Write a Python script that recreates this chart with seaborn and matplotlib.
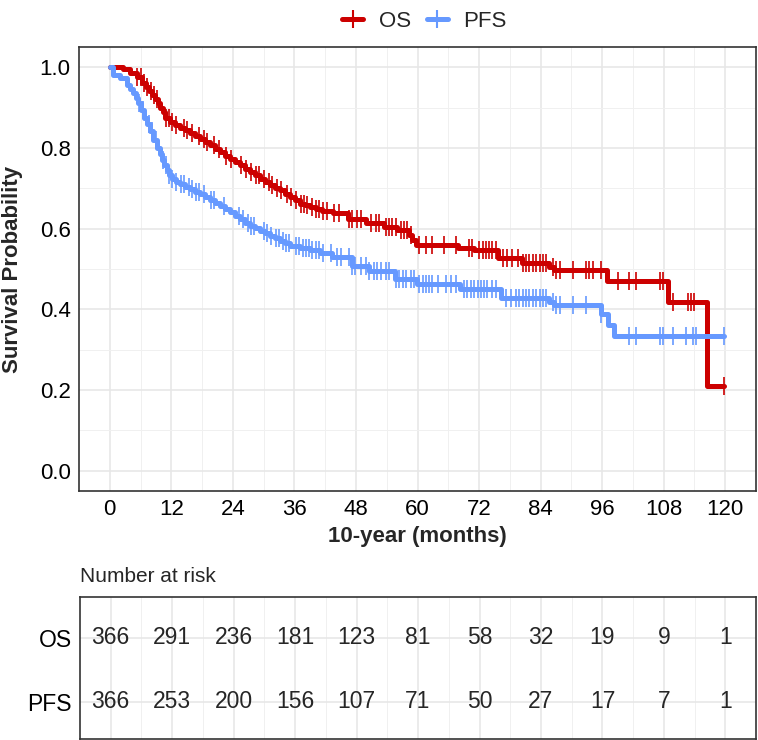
import numpy as np
import pandas as pd
import matplotlib
matplotlib.use('Agg')
import matplotlib.pyplot as plt
from matplotlib.lines import Line2D
import seaborn as sns

# ── DATA ───────────────────────────────────────────────────────────────────
risk_months = [0, 12, 24, 36, 48, 60, 72, 84, 96, 108, 120]
risk_os = [366, 291, 236, 181, 123, 81, 58, 32, 19, 9, 1]
risk_pfs = [366, 253, 200, 156, 107, 71, 50, 27, 17, 7, 1]

# Kaplan-Meier steps: time of drop and survival after the drop
os_time = [0, 2.5, 4.0, 5.3, 6.3, 7.0, 7.6, 8.3, 8.9, 9.4, 9.8, 10.3, 10.8, 11.8,
           12.8, 13.7, 14.7, 15.7, 16.6, 17.6, 18.6, 19.6, 20.5, 21.5, 22.5, 23.5,
           24.5, 25.4, 26.4, 27.4, 28.3, 29.3, 30.2, 31.2, 32.2, 33.2, 34.1, 35.1,
           36.1, 37.1, 38.0, 39.0, 40.2, 41.3, 43.5, 46.4, 50.0, 53.4, 56.0, 58.4,
           59.0, 59.7, 67.8, 71.0, 75.7, 80.3, 85.7, 86.7, 97.0, 108.8, 116.5, 119.8]
os_surv = [1.0, 0.995, 0.985, 0.975, 0.962, 0.95, 0.94, 0.93, 0.92, 0.91, 0.90, 0.888,
           0.875, 0.863, 0.856, 0.85, 0.844, 0.838, 0.83, 0.822, 0.814, 0.806, 0.798,
           0.79, 0.781, 0.773, 0.765, 0.757, 0.748, 0.74, 0.732, 0.724, 0.715, 0.707,
           0.701, 0.695, 0.686, 0.678, 0.67, 0.662, 0.658, 0.654, 0.648, 0.643, 0.638,
           0.623, 0.615, 0.605, 0.597, 0.585, 0.572, 0.559, 0.553, 0.546, 0.526, 0.516,
           0.506, 0.498, 0.471, 0.419, 0.211, 0.211]

pfs_time = [0, 0.7, 2.0, 3.3, 4.0, 4.6, 5.1, 5.6, 6.1, 6.6, 7.2, 7.9, 8.5, 9.2, 9.7,
            10.2, 10.6, 11.1, 11.6, 12.1, 12.9, 13.7, 14.7, 15.7, 16.6, 17.6, 18.6,
            19.6, 20.5, 21.5, 22.5, 23.5, 24.5, 25.4, 26.4, 27.4, 28.3, 29.3, 30.2,
            31.2, 32.2, 33.2, 34.1, 35.1, 37.1, 39.0, 41.0, 43.4, 47.3, 50.5, 55.7,
            59.9, 68.3, 76.2, 85.7, 86.7, 95.8, 97.1, 98.4, 119.8]
pfs_surv = [1.0, 0.98, 0.973, 0.957, 0.947, 0.936, 0.924, 0.911, 0.893, 0.874, 0.858,
            0.841, 0.82, 0.80, 0.786, 0.771, 0.758, 0.746, 0.734, 0.722, 0.716, 0.71,
            0.703, 0.697, 0.691, 0.685, 0.678, 0.672, 0.664, 0.656, 0.648, 0.64, 0.632,
            0.623, 0.615, 0.607, 0.601, 0.595, 0.588, 0.582, 0.576, 0.57, 0.564, 0.558,
            0.552, 0.546, 0.54, 0.529, 0.508, 0.496, 0.476, 0.464, 0.45, 0.428, 0.418,
            0.41, 0.388, 0.362, 0.333, 0.333]

# censoring times (the "+" marks)
os_censor = [5.4, 6.0, 6.7, 7.3, 8.0, 8.6, 9.3, 10.9, 11.6, 12.2, 12.9, 14.5, 15.1, 16.1,
             17.4, 18.4, 19.0, 20.3, 21.3, 22.6, 23.6, 25.5, 26.5, 27.5, 28.5, 29.1,
             30.1, 31.1, 31.7, 32.7, 33.3, 34.6, 35.3, 36.3, 37.3, 37.9, 38.5, 39.5,
             40.2, 40.8, 41.5, 42.4, 43.7, 44.7, 46.7, 47.3, 48.3, 48.9, 50.9, 51.9,
             52.5, 53.8, 54.4, 55.1, 55.8, 56.7, 57.4, 58.0, 58.7, 60.3, 61.6, 62.9,
             65.2, 67.5, 70.1, 70.7, 72.0, 72.7, 73.3, 74.0, 74.6, 75.3, 76.6, 77.5,
             78.5, 79.5, 80.5, 81.1, 81.8, 82.5, 83.1, 83.8, 84.4, 85.1, 86.4, 87.0,
             87.7, 90.3, 92.9, 93.5, 94.2, 95.8, 99.0, 101.3, 102.6, 107.2, 107.8,
             109.8, 112.7, 113.3, 113.9, 119.8]
pfs_censor = [5.7, 6.4, 7.7, 8.3, 9.0, 10.3, 10.9, 11.6, 12.2, 12.9, 13.8, 14.5, 15.5,
              16.1, 16.8, 17.4, 18.4, 19.7, 20.3, 22.3, 25.2, 25.9, 26.9, 27.5, 28.1,
              30.1, 30.7, 31.4, 32.4, 33.0, 33.7, 34.3, 35.0, 36.3, 36.9, 37.6, 38.2,
              38.9, 39.5, 40.2, 40.8, 41.5, 43.1, 44.4, 45.0, 46.7, 47.3, 47.9, 48.9,
              49.9, 50.6, 51.5, 52.2, 52.8, 53.8, 54.5, 55.8, 56.4, 57.1, 57.7, 58.7,
              59.3, 60.3, 61.0, 61.6, 62.3, 62.9, 63.9, 65.5, 66.5, 67.5, 69.1, 69.7,
              70.4, 71.0, 71.7, 72.3, 73.0, 73.6, 74.6, 75.3, 77.2, 78.2, 79.2, 79.8,
              80.5, 81.1, 81.8, 82.5, 83.1, 83.8, 84.4, 85.1, 86.4, 87.0, 87.7, 90.3,
              92.9, 95.8, 101.3, 102.6, 107.2, 107.8, 109.8, 112.4, 113.7, 114.3, 119.8]

# ── STYLE ──────────────────────────────────────────────────────────────────
sns.set_theme(style='whitegrid')
plt.rcParams['font.family'] = ['Liberation Sans', 'DejaVu Sans']

RED = '#CC0000'
BLUE = '#6699FF'
EDGE = '#333333'


def style_panel(a, size=16):
    a.set_facecolor('white')
    for s in a.spines.values():
        s.set_visible(True)
        s.set_color(EDGE)
        s.set_linewidth(1.2)
    a.set_xlim(-6, 126)
    a.set_xticks(risk_months)
    a.set_xticks(np.arange(6, 120, 12), minor=True)
    a.grid(which='major', color='#E6E6E6', linewidth=1.1)
    a.grid(which='minor', color='#F0F0F0', linewidth=0.7)
    a.set_axisbelow(True)
    a.tick_params(which='major', length=4, width=1.1, color=EDGE,
                  labelsize=size, labelcolor='black', pad=2)
    a.tick_params(which='minor', length=0)


def censor_y(times, surv, cens):
    idx = np.searchsorted(times, cens, side='right') - 1
    return np.asarray(surv)[idx]


fig = plt.figure(figsize=(7.58, 7.40), dpi=100)
ax = fig.add_axes([0.1042, 0.3365, 0.8932, 0.600])
tab = fig.add_axes([0.1055, 0.0014, 0.892, 0.1918])

# ── KM CURVES ──────────────────────────────────────────────────────────────
curves = [('OS', os_time, os_surv, os_censor, RED),
          ('PFS', pfs_time, pfs_surv, pfs_censor, BLUE)]
for name, t, s, c, col in curves:
    df = pd.DataFrame({'time': t, 'surv': s})
    sns.lineplot(data=df, x='time', y='surv', drawstyle='steps-post',
                 estimator=None, sort=False, color=col, linewidth=3.6, ax=ax)
    ax.plot(c, censor_y(t, s, c), linestyle='none', marker='|',
            markersize=13, markeredgewidth=1.2, color=col)

style_panel(ax)
ax.set_ylim(-0.05, 1.05)
ax.set_yticks([0, 0.2, 0.4, 0.6, 0.8, 1.0])
ax.set_yticks([0.1, 0.3, 0.5, 0.7, 0.9], minor=True)
ax.set_yticklabels(['0.0', '0.2', '0.4', '0.6', '0.8', '1.0'])
ax.set_xticklabels([str(m) for m in risk_months])
ax.set_xlabel('10-year (months)', fontsize=16, fontweight='bold', labelpad=4)
ax.set_ylabel('Survival Probability', fontsize=16, fontweight='bold', labelpad=12)

handles = [Line2D([], [], color=RED, linewidth=3.6, marker='|', markersize=13,
                  markeredgewidth=1.5),
           Line2D([], [], color=BLUE, linewidth=3.6, marker='|', markersize=13,
                  markeredgewidth=1.5)]
fig.legend(handles, ['OS', 'PFS'], loc='upper center', bbox_to_anchor=(0.56, 1.012),
           ncol=2, frameon=False, fontsize=16, handlelength=0.95,
           handletextpad=0.7, columnspacing=0.7)

# ── RISK TABLE ─────────────────────────────────────────────────────────────
style_panel(tab, size=16.5)
tab.set_ylim(0.42, 2.64)
tab.set_yticks([1, 2])
tab.set_yticklabels(['PFS', 'OS'])
tab.set_xticklabels([])
tab.tick_params(axis='x', which='major', length=0)
tab.set_xlabel('')
tab.set_ylabel('')
for m, n_os, n_pfs in zip(risk_months, risk_os, risk_pfs):
    tab.text(m, 2, str(n_os), ha='center', va='center', fontsize=16.5)
    tab.text(m, 1, str(n_pfs), ha='center', va='center', fontsize=16.5)

fig.text(0.1055, 1 - 577 / 740, 'Number at risk', ha='left', va='center', fontsize=15)

plt.savefig('out.png', dpi=100)
plt.close()
